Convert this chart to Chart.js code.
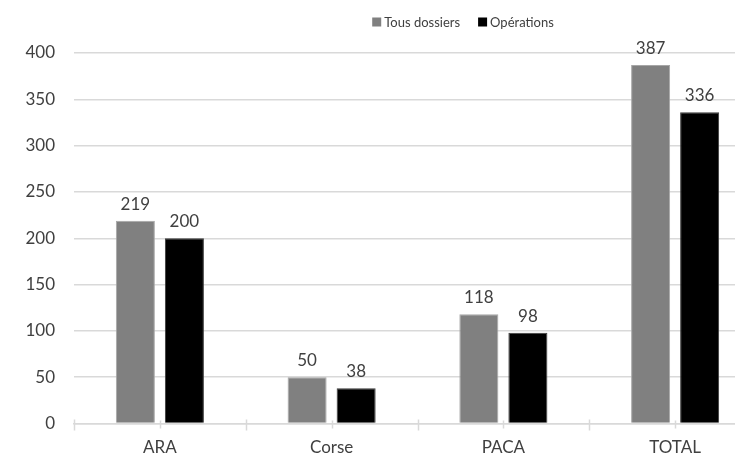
<!DOCTYPE html>
<html>
<head>
<meta charset="utf-8">
<script src="https://cdn.jsdelivr.net/npm/chart.js@4/dist/chart.umd.min.js"></script>
<style>
html,body{margin:0;padding:0;background:#fff;overflow:hidden;width:735px;height:457px;}
canvas{display:block;}
</style>
</head>
<body>
<canvas id="c" width="770" height="457" style="width:770px;height:457px"></canvas>
<script>
const categories = ['ARA', 'Corse', 'PACA', 'TOTAL'];
const seriesNames = ['Tous dossiers', 'Opérations'];
const tousDossiers = [219, 50, 118, 387];
const operations = [200, 38, 98, 336];
const yTicks = [0, 50, 100, 150, 200, 250, 300, 350, 400];

const FONT = 'Lato, "Open Sans", sans-serif';
const colors = ['#808080', '#000000'];
const borders = ['#a6a6a6', '#3a3a3a'];

const labelsPlugin = {
  id: 'valueLabels',
  afterDatasetsDraw(chart) {
    const ctx = chart.ctx;
    ctx.save();
    ctx.font = '17px ' + FONT;
    ctx.fillStyle = '#404040';
    ctx.textAlign = 'center';
    ctx.textBaseline = 'alphabetic';
    chart.data.datasets.forEach((ds, di) => {
      const meta = chart.getDatasetMeta(di);
      meta.data.forEach((el, i) => {
        ctx.fillText(String(ds.data[i]), el.x, el.y - 11);
      });
    });
    ctx.restore();
  }
};

const axisTicksPlugin = {
  id: 'axisTicks',
  afterDraw(chart) {
    const x = chart.scales.x;
    const y0 = chart.scales.y.getPixelForValue(0);
    const ctx = chart.ctx;
    ctx.save();
    ctx.strokeStyle = '#d9d9d9';
    ctx.lineWidth = 1.5;
    ctx.beginPath();
    for (let i = 0; i <= categories.length; i++) {
      const px = Math.round(x.getPixelForValue(i - 0.5)) + 0.5;
      ctx.moveTo(px, y0 - 4); ctx.lineTo(px, y0 + 7);
    }
    for (let i = 0; i < categories.length; i++) {
      const px = Math.round(x.getPixelForValue(i)) + 0.5;
      ctx.moveTo(px, y0 - 3); ctx.lineTo(px, y0 + 5);
    }
    ctx.stroke();
    ctx.restore();
  }
};

const legendPlugin = {
  id: 'customLegend',
  afterDraw(chart) {
    const ctx = chart.ctx;
    ctx.save();
    ctx.font = '13px ' + FONT;
    ctx.textBaseline = 'middle';
    ctx.textAlign = 'left';
    const box = 9, gapBox = 3, gapItem = 18, cy = 22, center = 463;
    const widths = seriesNames.map(n => ctx.measureText(n).width);
    const total = widths.reduce((a, w) => a + box + gapBox + w, 0) + gapItem * (seriesNames.length - 1);
    let xx = center - total / 2;
    seriesNames.forEach((n, i) => {
      ctx.fillStyle = colors[i];
      ctx.fillRect(xx, cy - box / 2, box, box);
      xx += box + gapBox;
      ctx.fillStyle = '#404040';
      ctx.fillText(n, xx, cy + 1);
      xx += widths[i] + gapItem;
    });
    ctx.restore();
  }
};

new Chart(document.getElementById('c'), {
  type: 'bar',
  data: {
    labels: categories,
    datasets: [
      { label: seriesNames[0], data: tousDossiers, backgroundColor: colors[0], borderColor: borders[0], borderWidth: 1 },
      { label: seriesNames[1], data: operations, backgroundColor: colors[1], borderColor: borders[1], borderWidth: 1 }
    ]
  },
  options: {
    responsive: false,
    animation: false,
    devicePixelRatio: 1,
    layout: { padding: { top: 53, right: 9, left: 0, bottom: 0 } },
    datasets: { bar: { categoryPercentage: 0.571, barPercentage: 0.796 } },
    plugins: { legend: { display: false }, tooltip: { enabled: false } },
    scales: {
      x: {
        grid: { display: false, drawTicks: false },
        border: { display: true, color: '#d9d9d9', width: 1.5 },
        ticks: { font: { family: FONT, size: 17 }, color: '#404040', padding: 14 },
        afterFit(s) { s.height = 33.5; }
      },
      y: {
        min: 0, max: 400,
        afterBuildTicks(s) { s.ticks = yTicks.map(v => ({ value: v })); },
        grid: { color: '#d9d9d9', lineWidth: 1.5, drawTicks: false },
        border: { display: false },
        ticks: { font: { family: FONT, size: 17 }, color: '#404040', padding: 19 },
        afterFit(s) { s.width = 74; }
      }
    }
  },
  plugins: [labelsPlugin, axisTicksPlugin, legendPlugin]
});
</script>
</body>
</html>
